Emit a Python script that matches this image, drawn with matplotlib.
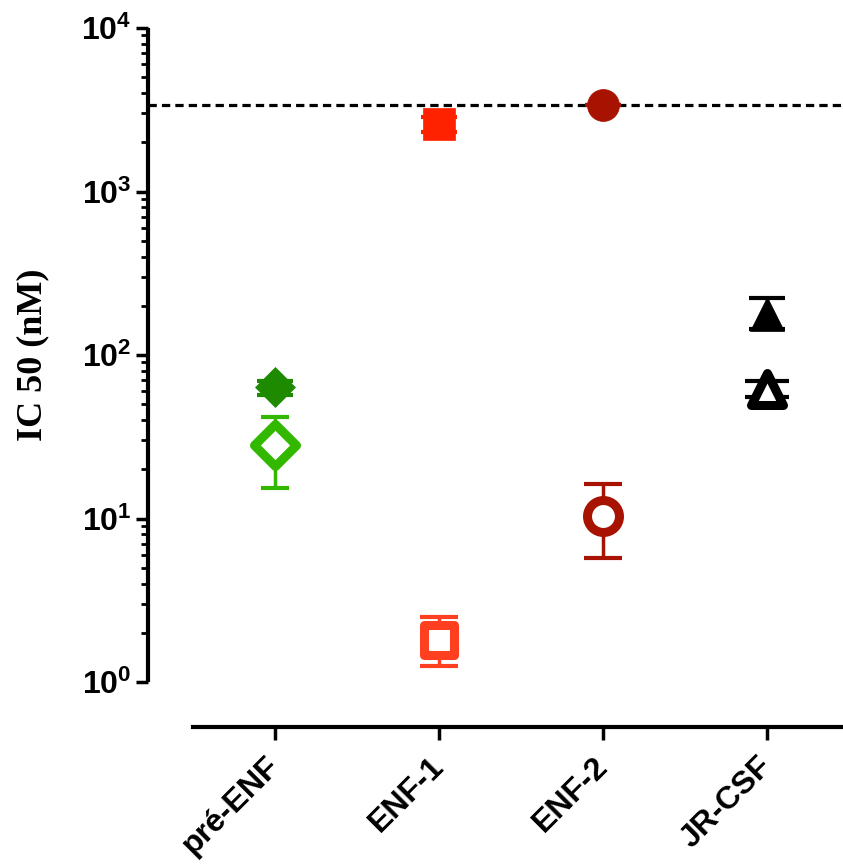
import numpy as np
import matplotlib
matplotlib.use("Agg")
import matplotlib.pyplot as plt
from matplotlib.markers import MarkerStyle
from matplotlib.ticker import FixedLocator, LogLocator, NullFormatter

plt.rcParams['font.family'] = ['Liberation Sans', 'DejaVu Sans']
plt.rcParams['font.weight'] = 'bold'
plt.rcParams['mathtext.fontset'] = 'custom'
plt.rcParams['mathtext.rm'] = 'Liberation Sans:bold'
plt.rcParams['mathtext.bf'] = 'Liberation Sans:bold'

# data (IC50 in nM)
categories = ["pré-ENF", "ENF-1", "ENF-2", "JR-CSF"]
filled_vals = [64, 2590, 3380, 178]
filled_lo = [57, 2310, 3380, 144]
filled_hi = [69, 2860, 3380, 223]
open_vals = [28, 1.8, 10.4, 62]
open_lo = [15.4, 1.25, 5.7, 55]
open_hi = [42, 2.5, 16.3, 69]
ref_line = 3380

filled_colors = ["#1e8a00", "#ff2200", "#a81200", "#000000"]
open_colors = ["#33b800", "#ff4020", "#a81200", "#000000"]
markers = ["D", "s", "o", "^"]

fig = plt.figure(figsize=(8.43, 8.65), dpi=100)
ax = fig.add_axes([193 / 843, 183 / 865, 650 / 843, 654 / 865])

x = np.arange(len(categories))

# filled markers (with error bars)
fill_ms = [20, 23, 23, 25]
for i in range(len(categories)):
    err = [[filled_vals[i] - filled_lo[i]], [filled_hi[i] - filled_vals[i]]]
    ax.errorbar(x[i], filled_vals[i], yerr=err, fmt='none', ecolor=filled_colors[i],
                elinewidth=2.5, capsize=13, capthick=3, zorder=2)
    ax.plot(x[i], filled_vals[i], linestyle='none', marker=markers[i], markersize=fill_ms[i],
            color=filled_colors[i], markeredgewidth=0.5, zorder=3)

# open markers (with error bars)
open_ms = [21, 21, 23, 23]
open_caps = [10, 14, 14, 16]
for i in range(len(categories)):
    err = [[open_vals[i] - open_lo[i]], [open_hi[i] - open_vals[i]]]
    ax.errorbar(x[i], open_vals[i], yerr=err, fmt='none', ecolor=open_colors[i],
                elinewidth=2.5, capsize=open_caps[i], capthick=3, zorder=2)
    ax.plot(x[i], open_vals[i], linestyle='none',
            marker=MarkerStyle(markers[i], joinstyle='round'), markersize=open_ms[i],
            markerfacecolor='white', markeredgecolor=open_colors[i],
            markeredgewidth=6.5, zorder=3)

# dashed reference line, starting at the offset y spine
ax.plot([-45 / 650, 1], [ref_line, ref_line], transform=ax.get_yaxis_transform(),
        color='black', linestyle=(0, (2.6, 1.6)), linewidth=2.3, clip_on=False, zorder=1)

# spines first (set_position resets tick styling)
for side in ['top', 'right']:
    ax.spines[side].set_visible(False)
ax.spines['left'].set_position(('outward', 45 * 0.72))
ax.spines['bottom'].set_position(('outward', 45 * 0.72))
ax.spines['left'].set_linewidth(3)
ax.spines['bottom'].set_linewidth(3)
ax.spines['left'].set_capstyle('butt')

ax.set_yscale('log')
ax.set_ylim(1, 1e4)
ax.set_xlim(-0.5, 3.46)

ax.yaxis.set_major_locator(FixedLocator([1, 10, 100, 1000, 10000]))
ax.set_yticklabels([r'$\mathbf{10^{0}}$', r'$\mathbf{10^{1}}$', r'$\mathbf{10^{2}}$',
                    r'$\mathbf{10^{3}}$', r'$\mathbf{10^{4}}$'], fontsize=23)
ax.yaxis.set_minor_locator(LogLocator(base=10, subs=np.arange(2, 10), numticks=20))
ax.yaxis.set_minor_formatter(NullFormatter())

ax.set_xticks(x)
ax.set_xticklabels(categories, fontsize=23, fontweight='bold', rotation=45,
                   ha='right', va='center', rotation_mode='anchor')

ax.set_ylabel("IC 50 (nM)", fontsize=26, fontweight='bold', family='Liberation Serif',
              labelpad=23)

ax.tick_params(axis='y', which='major', length=9, width=2.5, pad=3)
ax.tick_params(axis='y', which='minor', length=5, width=2)
ax.tick_params(axis='x', which='major', length=9, width=2.5, pad=16)

fig.savefig("out.png", dpi=100)
